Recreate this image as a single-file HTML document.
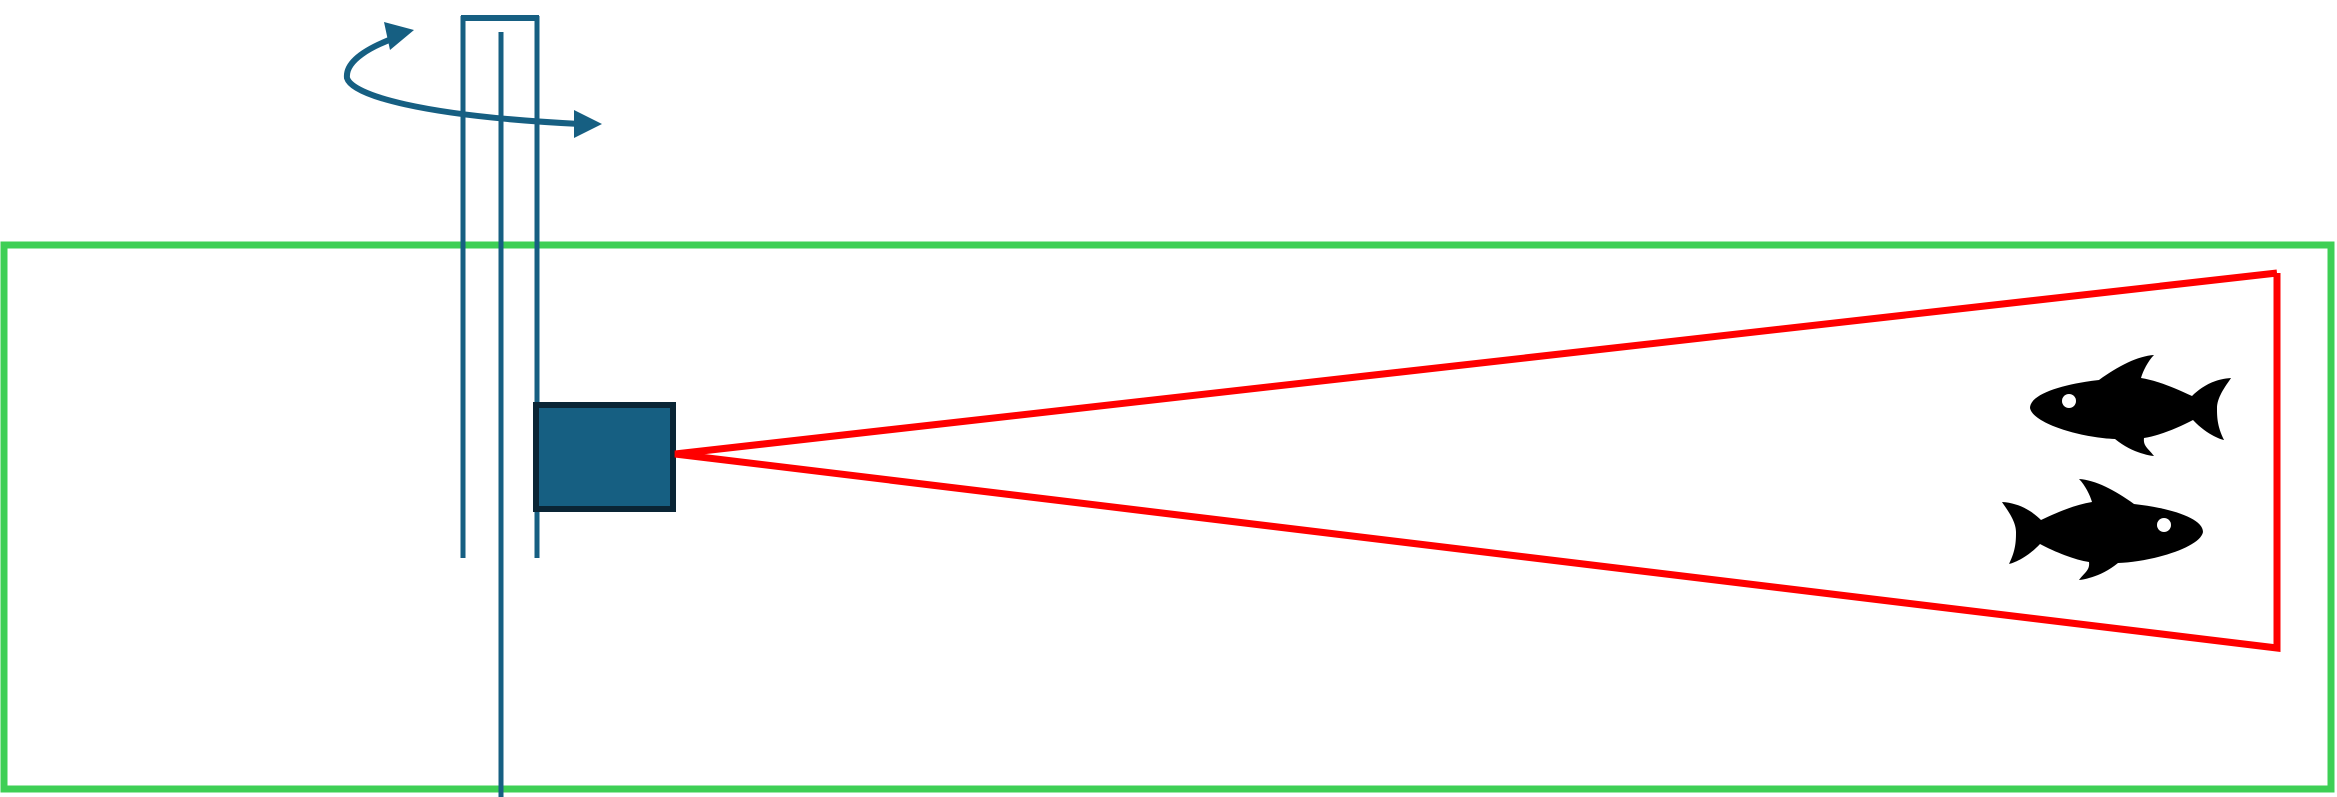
<!DOCTYPE html>
<html><head><meta charset="utf-8"><style>html,body{margin:0;padding:0;background:#fff}svg{display:block}</style></head>
<body>
<svg width="2337" height="797" viewBox="0 0 2337 797" xmlns="http://www.w3.org/2000/svg">
<rect x="4" y="245" width="2327" height="544" fill="none" stroke="#3ecf55" stroke-width="7"/>
<g stroke="#165f82" stroke-width="5" fill="none">
<line x1="463" y1="16" x2="463" y2="558"/>
<line x1="537" y1="16" x2="537" y2="558"/>
<line x1="501" y1="32" x2="501" y2="797"/>
<line x1="461" y1="18" x2="539" y2="18" stroke-width="6"/>
<path d="M397,37 C372,46 345,60 347,78 C352,95 420,116 580,124" stroke-width="6"/>
</g>
<polygon points="574,110 602,124 574,138" fill="#165f82"/>
<polygon points="384,22 414,30 390,50" fill="#165f82"/>
<rect x="536" y="405" width="137" height="104" fill="#165f82" stroke="#0a2535" stroke-width="6"/>
<polyline points="2277,273 675,454 2277,648 2277,273" fill="none" stroke="#ff0000" stroke-width="7"/>
<g id="f">
<path d="M2203,532 C2200,548 2150,562 2118,563 C2100,578 2080,580 2079,580 C2085,572 2090,570 2089,562 C2075,560 2055,552 2040,544 C2025,560 2010,564 2009,564 C2016,550 2016,540 2016,532 C2016,520 2005,507 2002,502 C2020,503 2033,512 2041,520 C2060,511 2075,505 2092,502 C2090,495 2085,485 2079,479 C2095,480 2115,490 2134,504 C2170,508 2203,518 2203,532 Z" fill="#000"/>
<circle cx="2164" cy="525" r="7" fill="#fff"/>
</g>
<use href="#f" transform="translate(4233,-124) scale(-1,1)"/>
</svg>
</body></html>
